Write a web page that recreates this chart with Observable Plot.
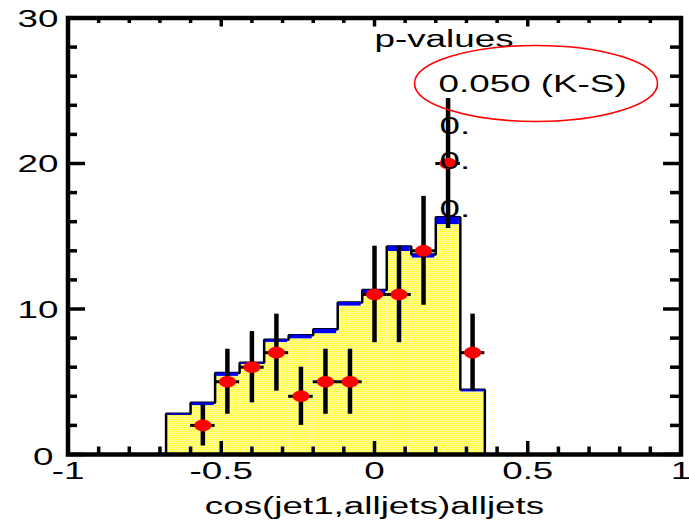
<!DOCTYPE html>
<html>
<head>
<meta charset="utf-8">
<script src="https://cdn.jsdelivr.net/npm/d3@7"></script>
<script src="https://cdn.jsdelivr.net/npm/@observablehq/plot@0.6"></script>
<style>
  html, body { margin: 0; padding: 0; background: #fff; }
  #chart svg { display: block; }
</style>
</head>
<body>
<div id="chart"></div>
<script>
// Histogram binning of cos(jet1, alljets): 0.08-wide bins between -0.68 and 0.36
const binEdges = [-0.68, -0.60, -0.52, -0.44, -0.36, -0.28, -0.20, -0.12, -0.04, 0.04, 0.12, 0.20, 0.28, 0.36];
const binCenters = [-0.64, -0.56, -0.48, -0.40, -0.32, -0.24, -0.16, -0.08, 0.00, 0.08, 0.16, 0.24, 0.32];
// Simulation: main (yellow) component and stacked total (blue cap)
const mcMain  = [2.70, 3.36, 5.37, 6.20, 7.70, 7.95, 8.30, 10.20, 11.05, 13.95, 13.50, 15.80, 4.30];
const mcTotal = [2.80, 3.55, 5.60, 6.30, 7.88, 8.20, 8.60, 10.45, 11.30, 14.30, 13.75, 16.30, 4.45];
// Observed event counts per bin
const dataCounts = [0, 2, 5, 6, 7, 4, 5, 5, 11, 11, 14, 20, 7];

// Axis ticks and labels
const xMajorTicks = [-1, -0.5, 0, 0.5, 1];
const xTickLabels = ["-1", "-0.5", "0", "0.5", "1"];
const xMinorTicks = [-0.9, -0.8, -0.7, -0.6, -0.4, -0.3, -0.2, -0.1, 0.1, 0.2, 0.3, 0.4, 0.6, 0.7, 0.8, 0.9];
const yMajorTicks = [0, 10, 20, 30];
const yTickLabels = ["0", "10", "20", "30"];
const yMinorTicks = [2, 4, 6, 8, 12, 14, 16, 18, 22, 24, 26, 28];

const xTitle = "cos(jet1,alljets)alljets";
const legendTitle = "p-values";
const ksLabel = "0.050 (K-S)";

// Build tables for the marks
const bins = binCenters.map((c, i) => ({
  x1: binEdges[i], x2: binEdges[i + 1], main: mcMain[i], total: mcTotal[i]
}));
const points = binCenters
  .map((c, i) => ({x: c, n: dataCounts[i], half: (binEdges[i + 1] - binEdges[i]) / 2}))
  .filter(d => d.n > 0);

// Outline of the stacked histogram as a closed step path
const outline = [{x: binEdges[0], y: 0}];
bins.forEach(b => { outline.push({x: b.x1, y: b.total}, {x: b.x2, y: b.total}); });
outline.push({x: binEdges[binEdges.length - 1], y: 0});

// Ellipse drawn with bezier arcs, used both for the markers and the highlight ring
function ellipse(rx, ry) {
  const k = 0.5522847498;
  return {
    draw(ctx) {
      ctx.moveTo(rx, 0);
      ctx.bezierCurveTo(rx, ry * k, rx * k, ry, 0, ry);
      ctx.bezierCurveTo(-rx * k, ry, -rx, ry * k, -rx, 0);
      ctx.bezierCurveTo(-rx, -ry * k, -rx * k, -ry, 0, -ry);
      ctx.bezierCurveTo(rx * k, -ry, rx, -ry * k, rx, 0);
      ctx.closePath();
    }
  };
}

const W = 689, H = 522;
const mL = 67.5, mR = 8.5, mT = 17.5, mB = 68;
const frameH = H - mT - mB, frameW = W - mL - mR;
const TICK_W = 3.5;
const STRETCH = 1.6;
const FONT = 23;

const svg = Plot.plot({
  width: W,
  height: H,
  marginLeft: mL,
  marginRight: mR,
  marginTop: mT,
  marginBottom: mB,
  style: {fontFamily: "'Liberation Sans', Arial, Helvetica, sans-serif", fontSize: FONT + "px", background: "#fff", color: "#000", overflow: "visible"},
  x: {domain: [-1, 1], axis: null},
  y: {domain: [0, 30], axis: null},
  marks: [
    // stacked simulation histogram
    Plot.rect(bins, {x1: "x1", x2: "x2", y1: () => 0, y2: "main", fill: "url(#dither)"}),
    Plot.line(outline, {x: "x", y: "y", stroke: "#000", strokeWidth: 2.5, strokeLinejoin: "miter"}),
    Plot.rect(bins, {x1: "x1", x2: "x2", y1: "main", y2: "total", fill: "#0000f0", insetLeft: 1, insetRight: 1}),

    // inward ticks: bottom, top, left, right
    Plot.ruleX(xMajorTicks, {x: d => d, insetTop: frameH - 13, strokeWidth: TICK_W}),
    Plot.ruleX(xMinorTicks, {x: d => d, insetTop: frameH - 7.5, strokeWidth: TICK_W}),
    Plot.ruleX(xMajorTicks, {x: d => d, insetBottom: frameH - 9, strokeWidth: TICK_W}),
    Plot.ruleX(xMinorTicks, {x: d => d, insetBottom: frameH - 5.5, strokeWidth: TICK_W}),
    Plot.ruleY(yMajorTicks, {y: d => d, insetRight: frameW - 17.5, strokeWidth: TICK_W}),
    Plot.ruleY(yMinorTicks, {y: d => d, insetRight: frameW - 9.5, strokeWidth: TICK_W}),
    Plot.ruleY(yMajorTicks, {y: d => d, insetLeft: frameW - 17.5, strokeWidth: TICK_W}),
    Plot.ruleY(yMinorTicks, {y: d => d, insetLeft: frameW - 10.5, strokeWidth: TICK_W}),

    // data with Poisson errors
    Plot.ruleY(points, {y: "n", x1: d => d.x - d.half, x2: d => d.x + d.half, stroke: "#000", strokeWidth: 3}),
    Plot.ruleX(points, {x: "x", y1: d => d.n - Math.sqrt(d.n), y2: d => d.n + Math.sqrt(d.n), stroke: "#000", strokeWidth: 4.5}),
    Plot.dot(points, {x: "x", y: "n", symbol: ellipse(8.5, 5.8), fill: "#ff0000", stroke: "none"}),

    // frame
    Plot.frame({stroke: "#000", strokeWidth: 4.5}),

    // tick labels (the zero on the y axis sits a little lower and further left)
    Plot.text(xMajorTicks, {x: d => d, text: (d, i) => xTickLabels[i], frameAnchor: "bottom", lineAnchor: "top", dy: 8.5, fontSize: FONT}),
    Plot.text(yMajorTicks.slice(1), {y: d => d, text: (d, i) => yTickLabels[i + 1], frameAnchor: "left", textAnchor: "end", lineAnchor: "middle", dx: -9.5, dy: 1.5, fontSize: FONT}),
    Plot.text(yMajorTicks.slice(0, 1), {y: d => d, text: (d, i) => yTickLabels[i], frameAnchor: "left", textAnchor: "end", lineAnchor: "middle", dx: -14.5, dy: 3, fontSize: FONT}),

    // axis title
    Plot.text([xTitle], {x: () => 0, text: d => d, frameAnchor: "bottom", lineAnchor: "bottom", dy: 59, fontSize: FONT}),

    // p-value annotations
    Plot.text([legendTitle], {x: () => 0.0, y: () => 28.04, text: d => d, textAnchor: "start", lineAnchor: "bottom", fontSize: FONT}),
    Plot.text([ksLabel], {x: () => 0.209, y: () => 24.9, text: d => d, textAnchor: "start", lineAnchor: "bottom", fontSize: FONT}),
    Plot.text([22.06, 19.59, 16.29], {x: () => 0.212, y: d => d, text: () => "0.", textAnchor: "start", lineAnchor: "bottom", fontSize: FONT}),
    Plot.dot([0], {x: () => 0.527, y: () => 25.5, symbol: ellipse(121.5, 38), fill: "none", stroke: "#ff0000", strokeWidth: 1.6})
  ]
});

// Yellow fill with a fine dither texture
const defs = d3.select(svg).insert("defs", ":first-child");
const pat = defs.append("pattern")
  .attr("id", "dither").attr("width", 2).attr("height", 2)
  .attr("patternUnits", "userSpaceOnUse");
pat.append("rect").attr("width", 2).attr("height", 2).attr("fill", "#ffff3c");
pat.append("rect").attr("width", 1).attr("height", 1).attr("fill", "#ffffa0");
pat.append("rect").attr("x", 1).attr("y", 1).attr("width", 1).attr("height", 1).attr("fill", "#ffffa0");

// Widen every label horizontally about its anchor point
svg.querySelectorAll("text").forEach(el => {
  const t = el.getAttribute("transform") || "";
  el.setAttribute("transform", `${t} scale(${STRETCH},1)`);
});

document.getElementById("chart").appendChild(svg);
</script>
</body>
</html>
